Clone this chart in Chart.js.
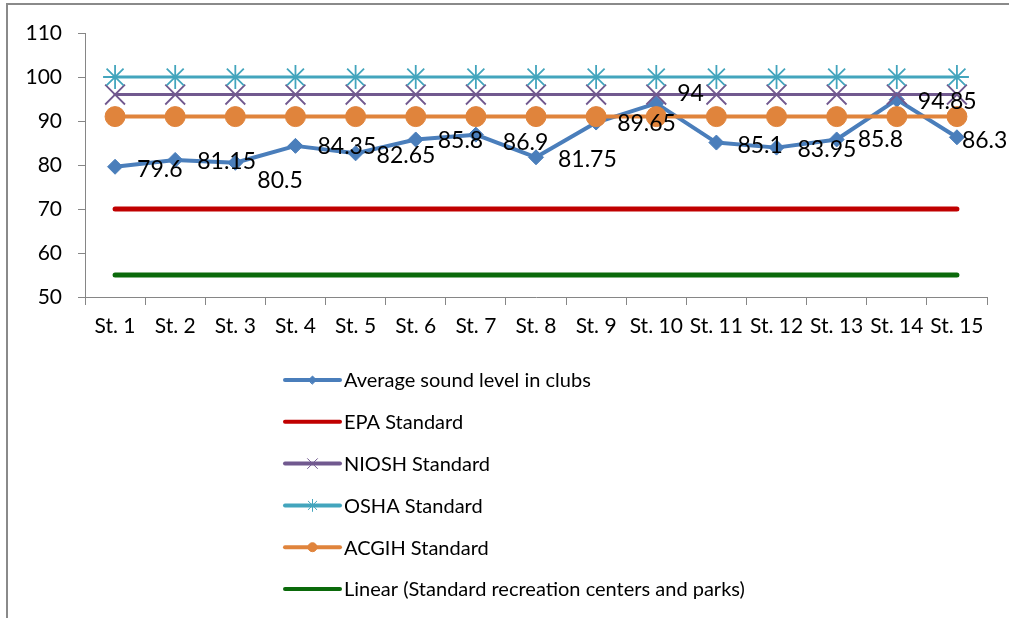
<!DOCTYPE html>
<html>
<head>
<meta charset="utf-8">
<script src="https://cdn.jsdelivr.net/npm/chart.js@4/dist/chart.umd.min.js"></script>
<style>
  html, body { margin: 0; padding: 0; background: #fff; }
  #wrap { width: 1009px; height: 618px; position: relative; }
</style>
</head>
<body>
<div id="wrap"><canvas id="c" width="1009" height="618"></canvas></div>
<script>
// ---- data ----
const categories = ['St. 1','St. 2','St. 3','St. 4','St. 5','St. 6','St. 7','St. 8','St. 9','St. 10','St. 11','St. 12','St. 13','St. 14','St. 15'];
const avgSoundLevel = [79.6, 81.15, 80.5, 84.35, 82.65, 85.8, 86.9, 81.75, 89.65, 94, 85.1, 83.95, 85.8, 94.85, 86.3];
const epaStandard   = [70,70,70,70,70,70,70,70,70,70,70,70,70,70,70];
const nioshStandard = [96,96,96,96,96,96,96,96,96,96,96,96,96,96,96];
const oshaStandard  = [100,100,100,100,100,100,100,100,100,100,100,100,100,100,100];
const acgihStandard = [91,91,91,91,91,91,91,91,91,91,91,91,91,91,91];
const recreationStandard = [55,55,55,55,55,55,55,55,55,55,55,55,55,55,55];
const seriesNames = ['Average sound level in clubs','EPA Standard','NIOSH Standard','OSHA Standard','ACGIH Standard','Linear (Standard recreation centers and parks)'];
const yTicks = [50, 60, 70, 80, 90, 100, 110];

const FONT = 'Lato, "Open Sans", sans-serif';

// label nudges (dx, dy) in px relative to each point
const labelNudge = [[22,3],[22,2],[22,18],[22,1],[21,2],[22,1],[27,8],[22,2],[21,1],[21,-10],[21,3],[21,2],[21,0],[21,2],[5,3]];

const valueLabels = {
  id: 'valueLabels',
  afterDatasetsDraw(chart) {
    const ctx = chart.ctx;
    const meta = chart.getDatasetMeta(0);
    ctx.save();
    ctx.font = '23px ' + FONT;
    ctx.fillStyle = '#000';
    ctx.textAlign = 'left';
    ctx.textBaseline = 'middle';
    meta.data.forEach((pt, i) => {
      const n = labelNudge[i] || [22, 2];
      ctx.fillText(String(avgSoundLevel[i]), pt.x + n[0], pt.y + n[1]);
    });
    ctx.restore();
  }
};

const frameAndLegend = {
  id: 'frameAndLegend',
  beforeDraw(chart) {
    const ctx = chart.ctx;
    ctx.save();
    ctx.fillStyle = '#fff';
    ctx.fillRect(0, 0, chart.width, chart.height);
    ctx.strokeStyle = '#8a8a8a';
    ctx.lineWidth = 2;
    ctx.beginPath();
    ctx.moveTo(7, 618); ctx.lineTo(7, 4); ctx.lineTo(1009, 4);
    ctx.stroke();
    ctx.restore();
  },
  afterDraw(chart) {
    const ctx = chart.ctx;
    ctx.save();
    const x0 = 285, x1 = 340, tx = 344, y0 = 380, dy = 41.8;
    chart.data.datasets.forEach((ds, i) => {
      const y = y0 + i * dy;
      ctx.strokeStyle = ds.borderColor;
      ctx.lineWidth = 4;
      ctx.lineCap = 'round';
      ctx.beginPath(); ctx.moveTo(x0, y); ctx.lineTo(x1, y); ctx.stroke();
      if (ds.pointRadius > 0) {
        ctx.fillStyle = ds.pointBackgroundColor;
        ctx.strokeStyle = ds.pointBorderColor;
        ctx.lineWidth = 1;
        Chart.helpers.drawPoint(ctx, {
          pointStyle: ds.pointStyle, radius: ds.legendRadius, borderWidth: 1, rotation: 0
        }, (x0 + x1) / 2, y);
      }
      ctx.fillStyle = '#000';
      ctx.font = '20px ' + FONT;
      ctx.textAlign = 'left';
      ctx.textBaseline = 'middle';
      ctx.fillText(ds.label, tx, y + 1);
    });
    ctx.restore();
  }
};

const mk = (label, data, color, width, style, radius, legendRadius, order) => ({
  label, data,
  borderColor: color, backgroundColor: color,
  borderWidth: width, borderCapStyle: 'round', borderJoinStyle: 'round',
  pointStyle: style || 'circle',
  pointRadius: style ? radius : 0,
  pointHoverRadius: style ? radius : 0,
  pointBackgroundColor: color, pointBorderColor: color,
  pointBorderWidth: style === 'crossRot' || style === 'star' ? 1.8 : 1,
  legendRadius,
  tension: 0, fill: false, order
});

const datasets = [
  mk(seriesNames[0], avgSoundLevel, '#4a7ebb', 4, 'rectRot', 7.5, 4, 6),
  mk(seriesNames[1], epaStandard, '#c00000', 5, null, 0, 0, 5),
  mk(seriesNames[2], nioshStandard, '#71598f', 3, 'crossRot', 14, 7, 4),
  mk(seriesNames[3], oshaStandard, '#43a5bd', 3, 'star', 12, 6, 3),
  mk(seriesNames[4], acgihStandard, '#e0843c', 4, 'circle', 10, 4.5, 2),
  mk(seriesNames[5], recreationStandard, '#0b6a0b', 5, null, 0, 0, 1)
];

new Chart(document.getElementById('c'), {
  type: 'line',
  data: { labels: categories, datasets },
  plugins: [frameAndLegend, valueLabels],
  options: {
    responsive: false,
    animation: false,
    events: [],
    layout: { padding: { left: 8, right: 22, top: 33, bottom: 0 } },
    plugins: { legend: { display: false }, tooltip: { enabled: false } },
    scales: {
      x: {
        type: 'category',
        offset: true,
        grid: { offset: true, drawOnChartArea: false, drawTicks: true, tickLength: 8, color: '#868686' },
        border: { color: '#868686', width: 1 },
        ticks: { color: '#000', font: { family: FONT, size: 21 }, padding: 9, maxRotation: 0, autoSkip: false },
        afterFit(scale) { scale.height = 321; }
      },
      y: {
        min: 50, max: 110,
        afterBuildTicks(scale) { scale.ticks = yTicks.map(v => ({ value: v })); },
        grid: { drawOnChartArea: false, drawTicks: true, tickLength: 7, color: '#868686' },
        border: { color: '#868686', width: 1 },
        ticks: { color: '#000', font: { family: FONT, size: 21 }, padding: 16 },
        afterFit(scale) { scale.width = 77; }
      }
    }
  }
});
</script>
</body>
</html>
